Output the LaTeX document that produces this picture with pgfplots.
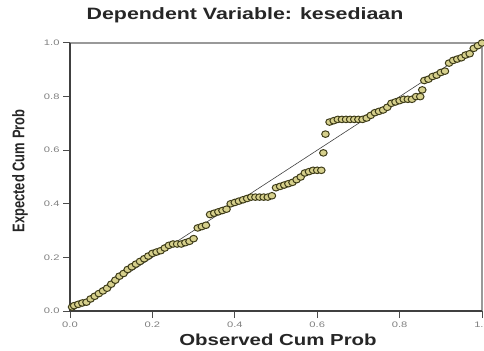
\documentclass[border=0pt]{standalone}
\usepackage{fontspec}
\setmainfont{Liberation Sans}
\usepackage{graphicx}
\usepackage{pgfplots}
\pgfplotsset{compat=1.18}
\definecolor{ptfill}{RGB}{214,208,140}
\definecolor{ptedge}{RGB}{62,60,25}
\newcommand\tl[1]{\scalebox{1.4}[1]{#1}}
\begin{document}
\begin{tikzpicture}[x=1bp,y=1bp]
\useasboundingbox (0,0) rectangle (484,350);
\begin{axis}[at={(70bp,39bp)}, anchor=south west,
  width=412bp, height=268bp, scale only axis,
  xmin=0, xmax=1, ymin=0, ymax=1,
  axis line style={draw=none},
  tick align=outside, major tick length=7bp,
  xtick={0,0.2,0.4,0.6,0.8,1},
  ytick={0,0.2,0.4,0.6,0.8,1},
  xticklabels={\tl{0.0},\tl{0.2},\tl{0.4},\tl{0.6},\tl{0.8},\tl{1.0}},
  yticklabels={\tl{0.0},\tl{0.2},\tl{0.4},\tl{0.6},\tl{0.8},\tl{1.0}},
  tick label style={font=\fontsize{8}{9}\selectfont, text=black!50},
  tick style={draw=black!70, line width=1pt},
  xtick pos=bottom, ytick pos=left,
  clip=false]
\addplot[black!75, line width=0.6pt] coordinates {(0,0) (1,1)};
\addplot[only marks, mark=*, mark size=3.3bp,
  mark options={fill=ptfill, draw=ptedge, line width=1pt, xscale=1.15}] coordinates {
(0.005,0.015) (0.01,0.02) (0.02,0.025) (0.03,0.03) (0.04,0.033)
(0.05,0.045) (0.06,0.055) (0.07,0.065) (0.08,0.075) (0.09,0.085)
(0.10,0.10) (0.11,0.115) (0.12,0.13) (0.13,0.14) (0.14,0.155)
(0.15,0.165) (0.16,0.175) (0.17,0.185) (0.18,0.195) (0.19,0.205)
(0.20,0.215) (0.21,0.22) (0.22,0.225) (0.23,0.235) (0.24,0.245)
(0.25,0.25) (0.26,0.25) (0.27,0.25) (0.28,0.255) (0.29,0.26)
(0.30,0.27) (0.31,0.31) (0.32,0.315) (0.33,0.32) (0.34,0.36)
(0.35,0.365) (0.36,0.37) (0.37,0.375) (0.38,0.38) (0.39,0.40)
(0.40,0.405) (0.41,0.41) (0.42,0.415) (0.43,0.42) (0.44,0.425)
(0.45,0.425) (0.46,0.425) (0.47,0.425) (0.48,0.425) (0.49,0.43)
(0.50,0.46) (0.51,0.465) (0.52,0.47) (0.53,0.475) (0.54,0.48)
(0.55,0.49) (0.56,0.50) (0.57,0.515) (0.58,0.52) (0.59,0.525)
(0.60,0.525) (0.61,0.525) (0.615,0.59) (0.62,0.66) (0.63,0.705)
(0.64,0.71) (0.65,0.715) (0.66,0.715) (0.67,0.715) (0.68,0.715)
(0.69,0.715) (0.70,0.715) (0.71,0.715) (0.72,0.72) (0.73,0.73)
(0.74,0.74) (0.75,0.745) (0.76,0.75) (0.77,0.76) (0.78,0.775)
(0.79,0.78) (0.80,0.785) (0.81,0.79) (0.82,0.79) (0.83,0.79)
(0.84,0.80) (0.85,0.80) (0.855,0.825) (0.86,0.86) (0.87,0.865)
(0.88,0.875) (0.89,0.88) (0.90,0.89) (0.91,0.895) (0.92,0.925)
(0.93,0.935) (0.94,0.94) (0.95,0.945) (0.96,0.955) (0.97,0.96)
(0.98,0.98) (0.99,0.99) (1.00,1.00)
};
\draw[black!40, line width=1.6pt] (rel axis cs:0,1) -- (rel axis cs:1,1) -- (rel axis cs:1,0);
\draw[black!75, line width=1.8pt] (rel axis cs:0,1) -- (rel axis cs:0,0) -- (rel axis cs:1,0);
\end{axis}
\node[text=black!85] at (245,335) {\scalebox{1.3}[1]{\fontsize{16.5}{18}\selectfont\bfseries Dependent Variable: kesediaan}};
\node[text=black!85] at (278,10) {\scalebox{1.28}[1]{\fontsize{16}{18}\selectfont\bfseries Observed Cum Prob}};
\node[text=black!85, rotate=90] at (20,179) {\scalebox{1}[1.3]{\fontsize{13}{15}\selectfont\bfseries Expected Cum Prob}};
\end{tikzpicture}
\end{document}
